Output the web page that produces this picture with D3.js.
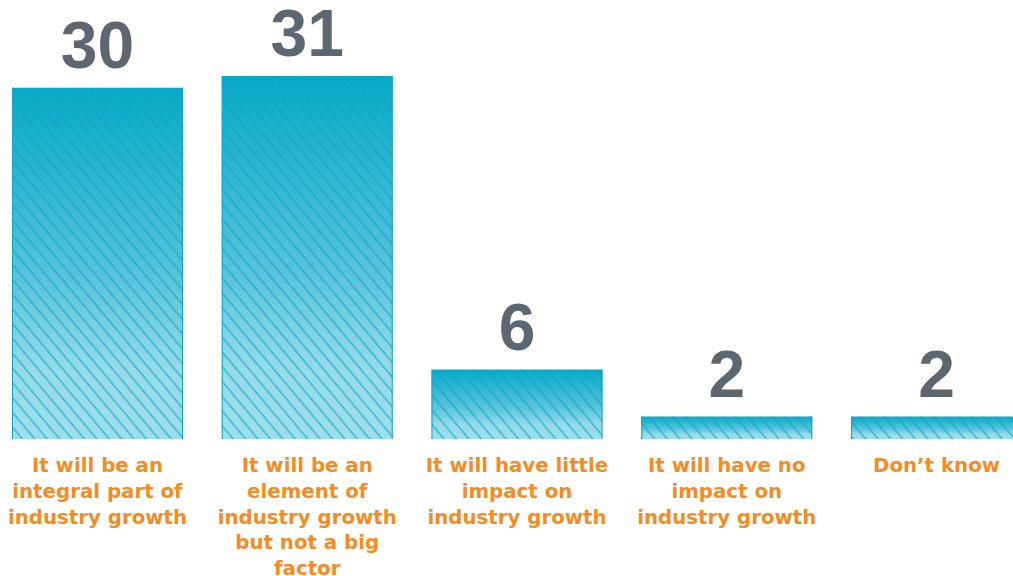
<!DOCTYPE html>
<html>
<head>
<meta charset="utf-8">
<script src="https://cdn.jsdelivr.net/npm/d3@7/dist/d3.min.js"></script>
<style>
  html, body { margin: 0; padding: 0; background: #ffffff; overflow: hidden; }
  svg { display: block; }
</style>
</head>
<body>
<svg id="chart" width="1013" height="576"></svg>
<script>
// Survey answers and counts
const categories = [
  "It will be an integral part of industry growth",
  "It will be an element of industry growth but not a big factor",
  "It will have little impact on industry growth",
  "It will have no impact on industry growth",
  "Don\u2019t know"
];
const values = [30, 31, 6, 2, 2];
// Wrapped label lines for each category
const labelLines = [
  ["It will be an", "integral part of", "industry growth"],
  ["It will be an", "element of", "industry growth", "but not a big", "factor"],
  ["It will have little", "impact on", "industry growth"],
  ["It will have no", "impact on", "industry growth"],
  ["Don\u2019t know"]
];

const svg = d3.select("#chart");
const baseline = 439;

const x = d3.scaleBand()
  .domain(categories)
  .range([12, 1022])
  .paddingInner(0.185)
  .paddingOuter(0);

const y = d3.scaleLinear()
  .domain([0, 31])
  .range([440, 76]);

const defs = svg.append("defs");

// Vertical fade from deep teal to pale aqua, per bar
const grad = defs.append("linearGradient")
  .attr("id", "barFade")
  .attr("x1", 0).attr("y1", 0).attr("x2", 0).attr("y2", 1);
grad.append("stop").attr("offset", "0%").attr("stop-color", "#08a9c8");
grad.append("stop").attr("offset", "55%").attr("stop-color", "#5ac4dc");
grad.append("stop").attr("offset", "80%").attr("stop-color", "#95dbea");
grad.append("stop").attr("offset", "100%").attr("stop-color", "#9ddeec");

// Thin diagonal hatch laid over the fade
const hatch = defs.append("pattern")
  .attr("id", "hatch")
  .attr("patternUnits", "userSpaceOnUse")
  .attr("width", 9.5)
  .attr("height", 9.5)
  .attr("patternTransform", "rotate(-40)");
hatch.append("line")
  .attr("x1", 1).attr("y1", 0).attr("x2", 1).attr("y2", 9.5)
  .attr("stroke", "#0aa2c2")
  .attr("stroke-width", 1);

const bars = svg.append("g").selectAll("g")
  .data(categories.map((c, i) => ({ c, v: values[i], lines: labelLines[i] })))
  .join("g");

bars.append("rect")
  .attr("x", d => x(d.c))
  .attr("y", d => y(d.v))
  .attr("width", x.bandwidth())
  .attr("height", d => baseline - y(d.v))
  .attr("fill", "url(#barFade)");

bars.append("rect")
  .attr("x", d => x(d.c))
  .attr("y", d => y(d.v))
  .attr("width", x.bandwidth())
  .attr("height", d => baseline - y(d.v))
  .attr("fill", "url(#hatch)");

// Side edges of each bar
bars.each(function(d) {
  const g = d3.select(this);
  [x(d.c) + 0.5, x(d.c) + x.bandwidth() - 0.5].forEach(px => {
    g.append("line")
      .attr("x1", px).attr("x2", px)
      .attr("y1", y(d.v)).attr("y2", baseline)
      .attr("stroke", "#0aa8c6")
      .attr("stroke-width", 1);
  });
});

// Value labels above the bars
bars.append("text")
  .attr("x", d => x(d.c) + x.bandwidth() / 2)
  .attr("y", d => y(d.v) - 20)
  .attr("text-anchor", "middle")
  .attr("font-family", "'Liberation Sans', Arial, sans-serif")
  .attr("font-weight", 700)
  .attr("font-size", 66)
  .attr("fill", "#5e6670")
  .text(d => d.v);

// Category labels under the bars
bars.append("text")
  .attr("text-anchor", "middle")
  .attr("font-family", "'DejaVu Sans', sans-serif")
  .attr("font-weight", 700)
  .attr("font-size", 19.8)
  .attr("fill", "#f68b1f")
  .selectAll("tspan")
  .data(d => d.lines.map(t => ({ t, cx: x(d.c) + x.bandwidth() / 2 })))
  .join("tspan")
  .attr("x", t => t.cx)
  .attr("y", (t, i) => 472 + i * 25.8)
  .text(t => t.t);
</script>
</body>
</html>
